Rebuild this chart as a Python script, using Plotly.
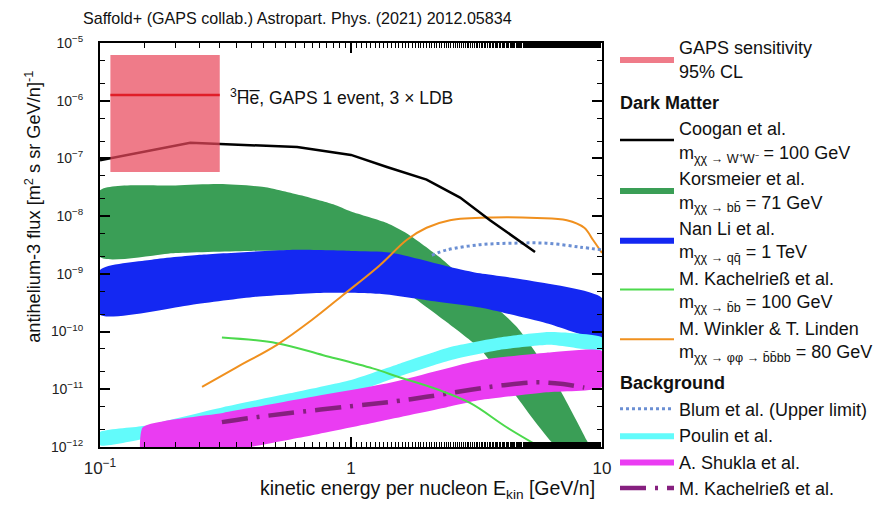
import plotly.graph_objects as go

# ---------------- data ----------------
# GAPS sensitivity box
gaps_E = [0.11, 0.30]
gaps_flux_low = 5.8e-8
gaps_flux_high = 6.2e-6
gaps_flux_sens = 1.25e-6

# Coogan et al. (black line)
coogan_E = [0.1, 0.229, 0.61, 1.0, 1.39, 2.0, 2.72, 3.58, 5.41]
coogan_F = [9.3e-8, 1.86e-7, 1.58e-7, 1.15e-7, 7.1e-8, 4.3e-8, 2.1e-8, 8.5e-9, 2.4e-9]

# Korsmeier et al. (green band)
kors_E_up = [0.1, 0.2, 0.3, 0.45, 0.63, 0.85, 1.0, 1.39, 1.67, 2.25, 3.2, 4.58, 6.62, 8.7, 10.0]
kors_F_up = [2.8e-8, 3.4e-8, 3.6e-8, 3.2e-8, 2.3e-8, 1.6e-8, 1.2e-8, 7.6e-9, 5.0e-9,
             1.95e-9, 5.0e-10, 1.2e-10, 1.2e-11, 1.3e-12, 4.0e-13]
kors_E_lo = [0.1, 0.2, 0.4, 0.7, 1.0, 1.3, 1.72, 2.41, 3.27, 4.42, 6.6]
kors_F_lo = [1.95e-9, 2.3e-9, 2.5e-9, 2.4e-9, 1.8e-9, 1.0e-9, 4.3e-10, 1.45e-10,
             5.0e-11, 9.0e-12, 1.0e-12]

# Nan Li et al. (blue band)
li_E_up = [0.1, 0.158, 0.25, 0.57, 1.0, 1.43, 2.48, 3.27, 5.0, 10.0]
li_F_up = [1.17e-9, 1.74e-9, 2.14e-9, 2.6e-9, 2.5e-9, 2.35e-9, 1.32e-9, 1.02e-9, 7.8e-10, 3.8e-10]
li_E_lo = [0.1, 0.23, 0.42, 0.8, 1.3, 2.0, 3.27, 6.0, 10.0]
li_F_lo = [1.95e-10, 2.9e-10, 4.0e-10, 4.7e-10, 4.5e-10, 3.5e-10, 2.6e-10, 1.4e-10, 7.9e-11]

# M. Kachelriess et al. DM (light green line)
kach_dm_E = [0.306, 0.507, 0.775, 1.22, 1.57, 2.2, 2.98, 4.17, 5.66]
kach_dm_F = [7.9e-11, 6.3e-11, 3.9e-11, 2.3e-11, 1.6e-11, 1.0e-11, 5.8e-12, 2.2e-12, 1.0e-12]

# M. Winkler & T. Linden (orange line)
wink_E = [0.255, 0.35, 0.507, 0.7, 0.93, 1.3, 1.67, 2.0, 2.48, 3.68, 5.5, 7.24, 8.5, 9.2, 10.0]
wink_F = [1.1e-11, 2.4e-11, 5.9e-11, 1.6e-10, 4.3e-10, 1.4e-9, 3.9e-9, 6.3e-9, 8.5e-9,
          9.5e-9, 9.3e-9, 8.5e-9, 6.3e-9, 3.9e-9, 2.3e-9]

# Blum et al. (dotted, upper limit)
blum_E = [2.1, 2.41, 3.27, 4.42, 6.0, 8.2, 10.0]
blum_F = [2.1e-9, 2.6e-9, 3.2e-9, 3.4e-9, 3.4e-9, 2.9e-9, 2.6e-9]

# Poulin et al. (cyan band)
poulin_E = [0.1, 0.148, 0.309, 0.57, 1.0, 1.57, 2.49, 3.9, 6.2, 10.0]
poulin_F_up = [1.8e-12, 2.3e-12, 4.9e-12, 8.5e-12, 1.45e-11, 2.8e-11, 5.4e-11, 7.9e-11,
               9.8e-11, 7.9e-11]
poulin_F_lo = [1.07e-12, 1.38e-12, 2.95e-12, 5.1e-12, 8.5e-12, 1.7e-11, 3.2e-11, 4.8e-11,
               5.9e-11, 4.8e-11]

# A. Shukla et al. (magenta band)
shukla_E_up = [0.148, 0.309, 0.6, 1.43, 3.27, 6.0, 10.0]
shukla_F_up = [2.2e-12, 3.9e-12, 6.6e-12, 1.3e-11, 3.2e-11, 4.3e-11, 4.6e-11]
shukla_E_lo = [0.148, 0.396, 0.7, 1.31, 2.41, 3.27, 6.0, 10.0]
shukla_F_lo = [5.0e-13, 1.0e-12, 1.6e-12, 2.8e-12, 4.9e-12, 6.5e-12, 8.9e-12, 1.1e-11]

# M. Kachelriess et al. background (dash-dot purple)
kach_bg_E = [0.306, 0.4, 0.55, 1.0, 1.5, 2.0, 3.0, 4.0, 5.5, 7.0, 8.5]
kach_bg_F = [2.7e-12, 3.2e-12, 3.8e-12, 5.1e-12, 6.2e-12, 7.4e-12, 9.8e-12, 1.17e-11,
             1.32e-11, 1.23e-11, 1.07e-11]

x_tickvals = [0.1, 1, 10]
x_ticktext = ["10<sup>−1</sup>", "1", "10"]
y_tickvals = [1e-12, 1e-11, 1e-10, 1e-9, 1e-8, 1e-7, 1e-6, 1e-5]
y_ticktext = ["10<sup>−12</sup>", "10<sup>−11</sup>", "10<sup>−10</sup>", "10<sup>−9</sup>",
              "10<sup>−8</sup>", "10<sup>−7</sup>", "10<sup>−6</sup>", "10<sup>−5</sup>"]

# ---------------- figure ----------------
FONT = "Liberation Sans, Arial, sans-serif"


def band(E_up, F_up, E_lo, F_lo):
    xs = list(E_up) + list(E_lo)[::-1] + [E_up[0]]
    ys = list(F_up) + list(F_lo)[::-1] + [F_up[0]]
    return xs, ys


fig = go.Figure()

# Korsmeier (green)
x, y = band(kors_E_up, kors_F_up, kors_E_lo, kors_F_lo)
fig.add_trace(go.Scatter(x=x, y=y, fill="toself", fillcolor="#3a9e56", mode="lines",
                         line=dict(width=0, shape="spline", smoothing=0.6),
                         name="Korsmeier et al.<br>m<sub>χχ → bb\u0304</sub> = 71 GeV",
                         legendgroup="dm", legendrank=3,
                         legendgrouptitle=dict(text="<b>Dark Matter</b>")))
# Nan Li (blue)
x, y = band(li_E_up, li_F_up, li_E_lo, li_F_lo)
fig.add_trace(go.Scatter(x=x, y=y, fill="toself", fillcolor="#1428f2", mode="lines",
                         line=dict(width=0, shape="spline", smoothing=0.6),
                         name="Nan Li et al.<br>m<sub>χχ → qq\u0304</sub> = 1 TeV",
                         legendgroup="dm", legendrank=4))
# Poulin (cyan)
x, y = band(poulin_E, poulin_F_up, poulin_E, poulin_F_lo)
fig.add_trace(go.Scatter(x=x, y=y, fill="toself", fillcolor="#62fbfb", mode="lines",
                         line=dict(width=0, shape="spline", smoothing=0.5),
                         name="Poulin et al.", legendgroup="bg", legendrank=8,
                         legendgrouptitle=dict(text="<b>Background</b>")))
# Shukla (magenta)
x, y = band(shukla_E_up, shukla_F_up, shukla_E_lo, shukla_F_lo)
fig.add_trace(go.Scatter(x=x, y=y, fill="toself", fillcolor="#ea3cf2", mode="lines",
                         line=dict(width=0, shape="spline", smoothing=0.5),
                         name="A. Shukla et al.", legendgroup="bg", legendrank=9))
# Kachelriess background (dash-dot purple)
fig.add_trace(go.Scatter(x=kach_bg_E, y=kach_bg_F, mode="lines",
                         line=dict(color="#86207f", width=4.5, shape="spline",
                                   dash="26px,9px,3px,9px"),
                         name="M. Kachelrieß et al.", legendgroup="bg", legendrank=10))
# Kachelriess DM (light green)
fig.add_trace(go.Scatter(x=kach_dm_E, y=kach_dm_F, mode="lines",
                         line=dict(color="#4cd94c", width=2, shape="spline"),
                         name="M. Kachelrieß et al.<br>m<sub>χχ → b\u0304b</sub> = 100 GeV",
                         legendgroup="dm", legendrank=5))
# Winkler & Linden (orange)
fig.add_trace(go.Scatter(x=wink_E, y=wink_F, mode="lines",
                         line=dict(color="#f0901e", width=2, shape="spline"),
                         name="M. Winkler &amp; T. Linden<br>m<sub>χχ → φφ → b\u0304b\u0304bb</sub> = 80 GeV",
                         legendgroup="dm", legendrank=6))
# Blum (dotted)
fig.add_trace(go.Scatter(x=blum_E, y=blum_F, mode="lines",
                         line=dict(color="#6b8fd3", width=3, dash="dot", shape="spline"),
                         name="Blum et al. (Upper limit)", legendgroup="bg", legendrank=7))
# Coogan (black)
fig.add_trace(go.Scatter(x=coogan_E, y=coogan_F, mode="lines",
                         line=dict(color="black", width=2.5),
                         name="Coogan et al.<br>m<sub>χχ → W⁺W⁻</sub> = 100 GeV",
                         legendgroup="dm", legendrank=2))
# GAPS box
fig.add_trace(go.Scatter(x=[gaps_E[0], gaps_E[1], gaps_E[1], gaps_E[0], gaps_E[0]],
                         y=[gaps_flux_low, gaps_flux_low, gaps_flux_high, gaps_flux_high, gaps_flux_low],
                         fill="toself", fillcolor="rgba(233,72,92,0.72)", mode="lines",
                         line=dict(width=0),
                         name="GAPS sensitivity<br>95% CL", legendgroup="gaps", legendrank=1))
fig.add_trace(go.Scatter(x=gaps_E, y=[gaps_flux_sens, gaps_flux_sens], mode="lines",
                         line=dict(color="#e01e28", width=2.5),
                         showlegend=False, legendgroup="gaps", hoverinfo="skip"))

axis_common = dict(showline=True, linecolor="black", linewidth=2, mirror="allticks",
                   ticks="inside", ticklen=10, tickwidth=1.5, tickcolor="black",
                   showgrid=False, zeroline=False, automargin=False,
                   minor=dict(ticks="inside", ticklen=5, tickcolor="black", tickwidth=1))

fig.update_xaxes(type="log", range=[-1, 1], tickmode="array",
                 tickvals=x_tickvals, ticktext=x_ticktext, ticklabelstandoff=5,
                 tickfont=dict(family=FONT, size=17, color="#222"), **axis_common)
fig.update_yaxes(type="log", range=[-12, -5], tickmode="array",
                 tickvals=y_tickvals, ticktext=y_ticktext, ticklabelstandoff=12,
                 tickfont=dict(family=FONT, size=14, color="#222"), **axis_common)

fig.add_annotation(text="<sup>3</sup>H\u0305e\u0305, GAPS 1 event, 3 × LDB",
                   xref="x", yref="y", x=-0.49, y=-5.94, xanchor="left", yanchor="middle",
                   showarrow=False, font=dict(family=FONT, size=17.5, color="#111"))
fig.add_annotation(text="antihelium-3 flux [m<sup>2</sup> s sr GeV/n]<sup>-1</sup>",
                   xref="paper", yref="paper", x=-0.135, y=0.595, textangle=-90,
                   xanchor="center", yanchor="middle", showarrow=False,
                   font=dict(family=FONT, size=18.2, color="#111"))
fig.add_annotation(text="kinetic energy per nucleon E<sub>kin</sub> [GeV/n]",
                   xref="paper", yref="paper", x=0.99, y=-0.105, xanchor="right",
                   yanchor="middle", showarrow=False,
                   font=dict(family=FONT, size=19.5, color="#111"))

fig.update_layout(
    width=873, height=506, autosize=False,
    margin=dict(l=100, r=271, t=43, b=59, autoexpand=False),
    paper_bgcolor="white", plot_bgcolor="white",
    title=dict(text="Saffold+ (GAPS collab.) Astropart. Phys. (2021) 2012.05834",
               xref="container", yref="container", x=83 / 873, y=1 - 18 / 506,
               xanchor="left", yanchor="middle",
               font=dict(family=FONT, size=16.1, color="#111")),
    legend=dict(xref="container", yref="container", x=615 / 873, y=1 - 29 / 506,
                xanchor="left", yanchor="top",
                traceorder="grouped", tracegroupgap=5, maxheight=490,
                font=dict(family=FONT, size=18, color="#111"),
                grouptitlefont=dict(family=FONT, size=18, color="#111"),
                bgcolor="rgba(0,0,0,0)", itemwidth=54),
    font=dict(family=FONT),
)

fig.write_html("out.html", config={"displayModeBar": False},
               post_script="document.body.style.margin='0px';")
